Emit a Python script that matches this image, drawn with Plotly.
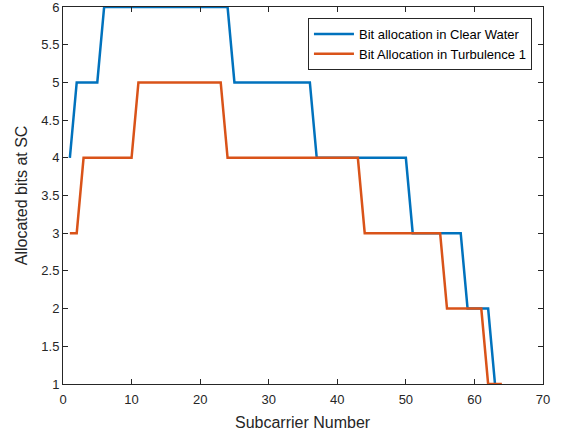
import plotly.graph_objects as go

# Data
sc_clear = list(range(1, 64))
bits_clear = [4, 5, 5, 5, 5] + [6] * 19 + [5] * 12 + [4] * 14 + [3] * 8 + [2] * 4 + [1]
sc_turb = list(range(1, 65))
bits_turb = [3, 3] + [4] * 8 + [5] * 13 + [4] * 20 + [3] * 12 + [2] * 6 + [1] * 3

x_ticks = [0, 10, 20, 30, 40, 50, 60, 70]
y_ticks = [1, 1.5, 2, 2.5, 3, 3.5, 4, 4.5, 5, 5.5, 6]
y_tick_labels = ["1", "1.5", "2", "2.5", "3", "3.5", "4", "4.5", "5", "5.5", "6"]

fig = go.Figure()
fig.add_trace(go.Scatter(x=sc_clear, y=bits_clear, mode="lines",
                         name="Bit allocation in Clear Water",
                         line=dict(color="#0072BD", width=2.5)))
fig.add_trace(go.Scatter(x=sc_turb, y=bits_turb, mode="lines",
                         name="Bit Allocation in Turbulence 1",
                         line=dict(color="#D95319", width=2.5)))

axcol = "#262626"
fig.update_layout(
    width=562, height=434,
    margin=dict(l=63, r=19, t=7, b=50),
    paper_bgcolor="white", plot_bgcolor="white",
    font=dict(family="Liberation Sans, Arial, sans-serif", color=axcol, size=13),
    showlegend=True,
    legend=dict(x=0.977, y=0.971, xanchor="right", yanchor="top",
                bgcolor="white", bordercolor=axcol, borderwidth=1,
                font=dict(size=13, color="black"),
                tracegroupgap=0, itemwidth=40),
    xaxis=dict(range=[0, 70], tickvals=x_ticks, ticks="inside", ticklen=5,
               showline=True, linecolor=axcol, linewidth=1, mirror="ticks",
               showgrid=False, zeroline=False, tickcolor=axcol, automargin=False,
               ticklabelstandoff=3,
               tickfont=dict(size=13, color=axcol), ticklabeloverflow="allow"),
    yaxis=dict(range=[1, 6], tickvals=y_ticks, ticktext=y_tick_labels, ticks="inside", ticklen=5,
               showline=True, linecolor=axcol, linewidth=1, mirror="ticks",
               showgrid=False, zeroline=False, tickcolor=axcol, automargin=False,
               tickfont=dict(size=13, color=axcol), ticklabeloverflow="allow"),
    annotations=[
        dict(text="Subcarrier Number", xref="paper", yref="paper", x=0.5, y=-0.101,
             xanchor="center", yanchor="middle", showarrow=False,
             font=dict(size=16, color=axcol)),
        dict(text="Allocated bits at SC", xref="paper", yref="paper", x=-0.086, y=0.5,
             xanchor="center", yanchor="middle", showarrow=False, textangle=-90,
             font=dict(size=16, color=axcol)),
    ],
)

fig.write_html("out.html")
